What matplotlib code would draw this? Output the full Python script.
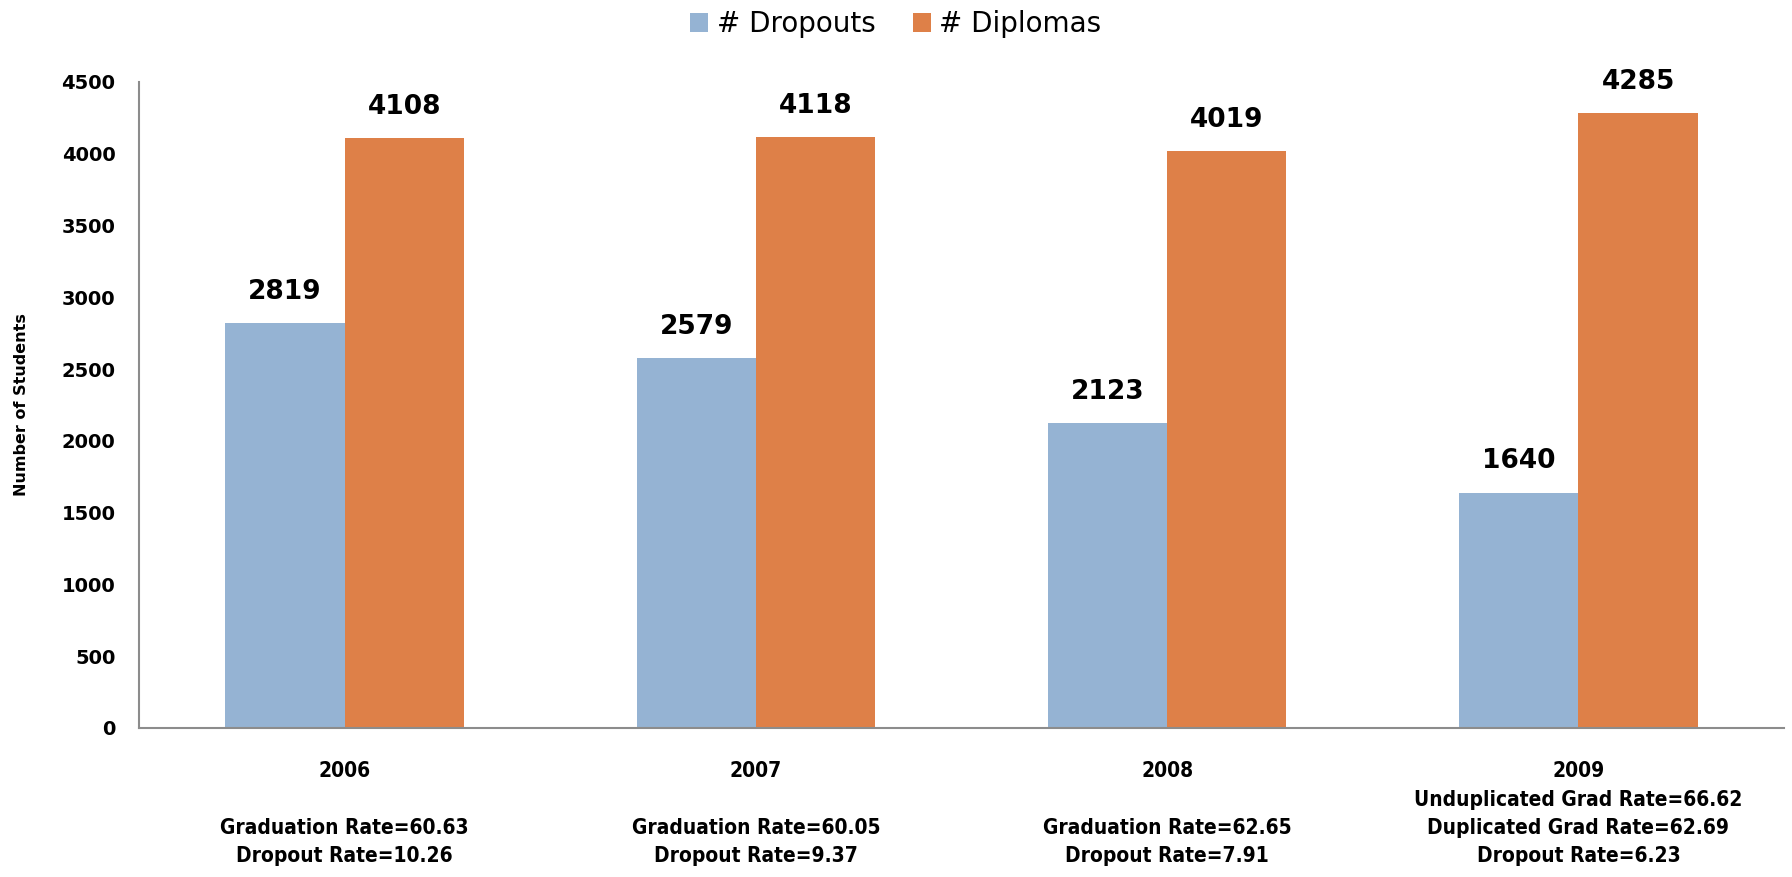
import matplotlib.pyplot as plt
import numpy as np

years = ['2006', '2007', '2008', '2009']
dropouts = [2819, 2579, 2123, 1640]
diplomas = [4108, 4118, 4019, 4285]
rate_notes = [
    '\nGraduation Rate=60.63\nDropout Rate=10.26',
    '\nGraduation Rate=60.05\nDropout Rate=9.37',
    '\nGraduation Rate=62.65\nDropout Rate=7.91',
    'Unduplicated Grad Rate=66.62\nDuplicated Grad Rate=62.69\nDropout Rate=6.23',
]

blue = '#95B3D3'
orange = '#DE8048'

fig = plt.figure(figsize=(17.92, 8.77), dpi=100)
ax = fig.add_axes([0.0776, 0.170, 0.918, 0.7365])

x = np.arange(len(years))
w = 0.29
b1 = ax.bar(x - w / 2, dropouts, w, color=blue, label='# Dropouts')
b2 = ax.bar(x + w / 2, diplomas, w, color=orange, label='# Diplomas')

for bars in (b1, b2):
    for r in bars:
        ax.annotate(str(int(r.get_height())), (r.get_x() + r.get_width() / 2, r.get_height()),
                    xytext=(0, 13), textcoords='offset points', ha='center', va='bottom',
                    fontsize=19, fontweight='bold')

ax.set_xlim(-0.5, len(years) - 0.5)
ax.set_ylim(0, 4500)
ax.set_yticks(np.arange(0, 4501, 500))
ax.tick_params(axis='y', length=0, pad=17, labelsize=14)
for t in ax.get_yticklabels():
    t.set_fontweight('bold')

ax.set_xticks(x)
ax.set_xticklabels([y + '\n' + n for y, n in zip(years, rate_notes)], fontsize=15,
                   fontweight='bold', fontstretch='condensed', linespacing=1.52)
ax.tick_params(axis='x', length=0, pad=24)

for s in ['top', 'right']:
    ax.spines[s].set_visible(False)
for s in ['left', 'bottom']:
    ax.spines[s].set_color('#8c8c8c')
    ax.spines[s].set_linewidth(1.5)

ax.set_ylabel('Number of Students', fontsize=11.5, fontweight='bold')
ax.yaxis.set_label_coords(-0.067, 0.5)

fig.legend(handles=[b1, b2], loc='upper center', bbox_to_anchor=(0.5, 1.017), ncol=2,
           frameon=False, fontsize=20, handlelength=0.65, handleheight=0.65,
           handletextpad=0.3, columnspacing=1.35)

fig.savefig('out.png', dpi=100)
